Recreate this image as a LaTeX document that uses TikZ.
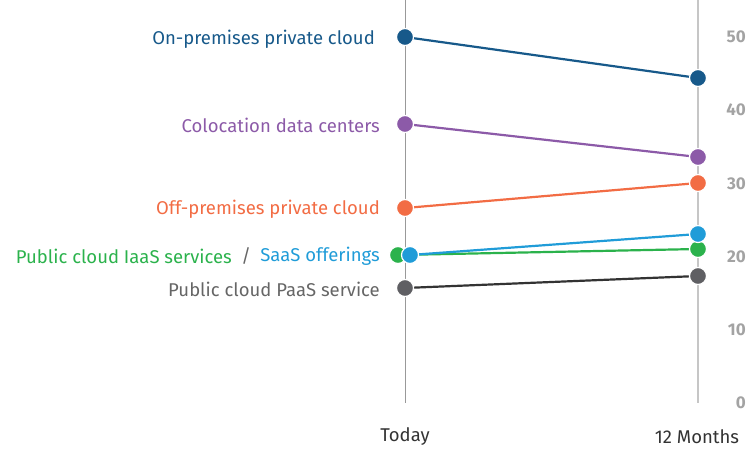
\documentclass[tikz,border=0pt]{standalone}
\usepackage{fontspec}
\setmainfont{Fira Sans}
\usepackage{xcolor}
\definecolor{onprem}{HTML}{17598A}
\definecolor{coloc}{HTML}{8C5AA8}
\definecolor{offprem}{HTML}{F26C44}
\definecolor{iaas}{HTML}{2BB24C}
\definecolor{saas}{HTML}{209CD8}
\definecolor{paas}{HTML}{5F5F63}
\definecolor{paasline}{HTML}{333333}
\definecolor{paastext}{HTML}{666666}
\definecolor{ticktext}{HTML}{A3A3A3}
\tikzset{
	dot/.style={circle, draw=white, line width=1.2pt, minimum size=17pt, inner sep=0pt},
	slope/.style={line width=2.2pt},
	label/.style={anchor=east, inner sep=0pt, font=\fontsize{18.5}{20}\selectfont},
	tick/.style={anchor=east, inner sep=0pt, font=\fontsize{17}{19}\selectfont\bfseries, text=ticktext},
	period/.style={anchor=center, inner sep=0pt, font=\fontsize{18.5}{20}\selectfont, text=black!80}
}

\begin{document}
\begin{tikzpicture}[x=1pt, y=-1pt]
		\useasboundingbox (0,0) rectangle (748,452);

		% Axes
		\coordinate (todaytop) at (405,0);
		\coordinate (todaybot) at (405,403);
		\coordinate (monthtop) at (698,0);
		\coordinate (monthbot) at (698,403);
		\draw[gray!80, line width=0.8pt] (todaytop) -- (todaybot);
		\draw[gray!45, line width=1.4pt] (monthtop) -- (monthbot);

		% Scale
		\foreach \v [count=\i from 0] in {0,10,...,50}
			\node[tick] (tick\i) at (746,403-7.32*\v) {\v};

		% Points today / in 12 months
		\coordinate (onT) at (405,37);
		\coordinate (onM) at (698,78);
		\coordinate (coT) at (405,124);
		\coordinate (coM) at (698,157);
		\coordinate (ofT) at (405,208);
		\coordinate (ofM) at (698,183);
		\coordinate (iaT) at (398,255);
		\coordinate (iaM) at (698,249);
		\coordinate (saT) at (410,255);
		\coordinate (saM) at (698,234);
		\coordinate (paT) at (405,288);
		\coordinate (paM) at (698,276);

		% Slopes
		\draw[slope, onprem] (onT) -- (onM);
		\draw[slope, coloc] (coT) -- (coM);
		\draw[slope, offprem] (ofT) -- (ofM);
		\draw[slope, iaas] (iaT) -- (iaM);
		\draw[slope, saas] (saT) -- (saM);
		\draw[slope, paasline] (paT) -- (paM);

		% Dots
		\node[dot, fill=onprem] (onTd) at (onT) {};
		\node[dot, fill=onprem] (onMd) at (onM) {};
		\node[dot, fill=coloc] (coTd) at (coT) {};
		\node[dot, fill=coloc] (coMd) at (coM) {};
		\node[dot, fill=offprem] (ofTd) at (ofT) {};
		\node[dot, fill=offprem] (ofMd) at (ofM) {};
		\node[dot, fill=iaas] (iaTd) at (iaT) {};
		\node[dot, fill=iaas] (iaMd) at (iaM) {};
		\node[dot, fill=saas] (saTd) at (saT) {};
		\node[dot, fill=saas] (saMd) at (saM) {};
		\node[dot, fill=paas] (paTd) at (paT) {};
		\node[dot, fill=paas] (paMd) at (paM) {};

		% Labels
		\node[label, text=onprem] (onL) at (375,39) {On-premises private cloud};
		\node[label, text=coloc] (coL) at (380,125) {Colocation data centers};
		\node[label, text=offprem] (ofL) at (380,209) {Off-premises private cloud};
		\node[label, text=saas] (saL) at (380,256) {SaaS offerings};
		\node[label, text=paastext] (slashL) at ([xshift=-9pt]saL.west) {/};
		\node[label, text=iaas] (iaL) at ([xshift=-9pt]slashL.west) {Public cloud IaaS services};
		\node[label, text=paastext] (paL) at (380,289) {Public cloud PaaS service};

		% Periods
		\node[period] (today) at (405,437) {Today};
		\node[period] (month) at (697,437) {12 Months};
	\end{tikzpicture}
\end{document}
